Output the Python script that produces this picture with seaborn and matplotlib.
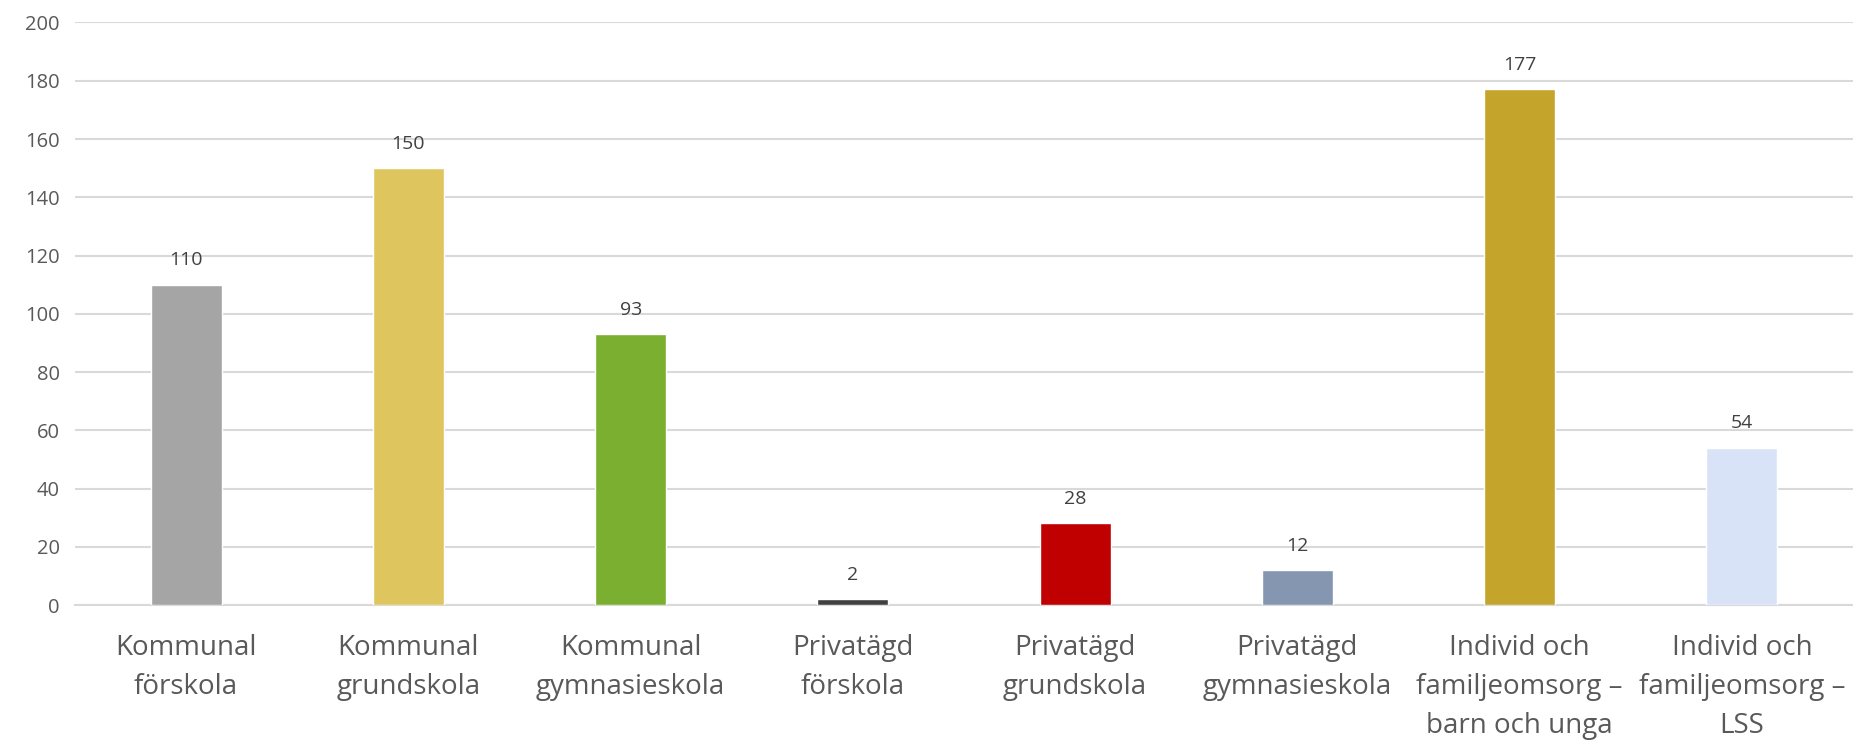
import matplotlib
matplotlib.use('Agg')
import matplotlib.pyplot as plt
import seaborn as sns
import pandas as pd

# chart data
categories = [
    'Kommunal\nförskola',
    'Kommunal\ngrundskola',
    'Kommunal\ngymnasieskola',
    'Privatägd\nförskola',
    'Privatägd\ngrundskola',
    'Privatägd\ngymnasieskola',
    'Individ och\nfamiljeomsorg –\nbarn och unga',
    'Individ och\nfamiljeomsorg –\nLSS',
]
values = [110, 150, 93, 2, 28, 12, 177, 54]
bar_colors = ['#A5A5A5', '#DFC55D', '#7AAF2F', '#404040',
              '#C00000', '#8596B0', '#C4A42B', '#D9E3F8']
y_ticks = [0, 20, 40, 60, 80, 100, 120, 140, 160, 180, 200]

df = pd.DataFrame({'kategori': categories, 'antal': values})

sns.set_theme(style='white')
plt.rcParams['font.family'] = ['Open Sans', 'DejaVu Sans']

fig = plt.figure(figsize=(18.53, 7.40), dpi=100)
ax = fig.add_axes([0.0405, 0.1824, 0.9595, 0.7872])

sns.barplot(data=df, x='kategori', y='antal', hue='kategori',
            palette=bar_colors, legend=False, width=0.32, saturation=1,
            ax=ax, zorder=3)

ax.set_ylim(0, 200)
ax.set_xlim(-0.5, len(categories) - 0.5)
ax.set_yticks(y_ticks)
ax.yaxis.grid(True, color='#D9D9D9', linewidth=1.5, zorder=0)
ax.set_axisbelow(True)
for s in ['top', 'right', 'left']:
    ax.spines[s].set_visible(False)
ax.spines['bottom'].set_color('#D9D9D9')
ax.spines['bottom'].set_linewidth(1.5)

ax.set_xlabel('')
ax.set_ylabel('')
ax.tick_params(axis='y', length=0, pad=11, labelsize=14.5, labelcolor='#595959')
ax.tick_params(axis='x', length=0, pad=21, labelsize=20, labelcolor='#595959')
for lbl in ax.get_xticklabels():
    lbl.set_linespacing(1.52)

for i, v in enumerate(values):
    ax.annotate(str(v), (i, v), xytext=(0, 11), textcoords='offset points',
                ha='center', va='bottom', fontsize=14, color='#404040')

fig.savefig('out.png', dpi=100)
